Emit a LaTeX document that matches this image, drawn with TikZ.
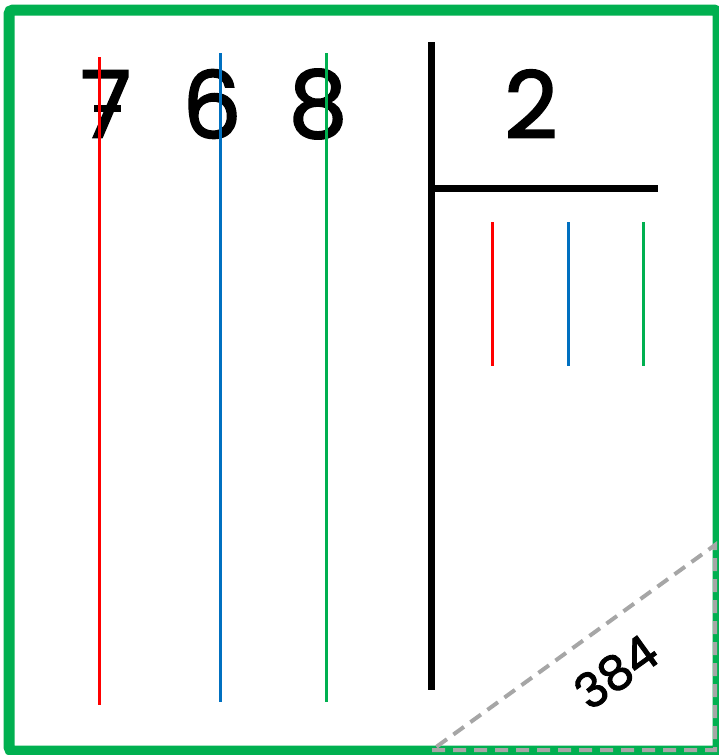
\documentclass[tikz,border=0pt]{standalone}
\usepackage{fontspec}
\setmainfont{Poppins}
\newfontfamily\digfont{Poppins}[FakeBold=2]
\definecolor{myred}{HTML}{FF0000}
\definecolor{myblue}{HTML}{0070C0}
\definecolor{mygreen}{HTML}{00B050}
\definecolor{mygray}{HTML}{A6A6A6}
\begin{document}
\begin{tikzpicture}[x=1pt,y=-1pt,
  digit/.style={font=\digfont\fontsize{93}{93}\selectfont, inner sep=0pt, anchor=center},
  colline/.style={line width=3pt},
  barline/.style={line width=7pt, black},
  hint/.style={draw=mygray, line width=4pt, dash pattern=on 13pt off 8pt}]
\useasboundingbox (0,0) rectangle (719,755);
\clip (0,0) rectangle (719,755);
\draw[mygreen, line width=11pt, rounded corners=4pt] (9,10) rectangle (718,751);
% dividend digits
\node[digit] (d7) at (106,104) {7};
\node[digit] (d6) at (212,104) {6};
\node[digit] (d8) at (318,104) {8};
\draw[line width=7pt] (94,108) -- (121,108);
\draw[colline, myred] (99,57) -- (99,705);
\draw[colline, myblue] (220,53) -- (220,702);
\draw[colline, mygreen] (326,53) -- (326,702);
% division bracket
\draw[barline] (431,42) -- (431,690);
\draw[barline] (431,188) -- (658,188);
\node[digit] (d2) at (531,104) {2};
% quotient lines
\draw[colline, myred] (492,222) -- (492,366);
\draw[colline, myblue] (568,222) -- (568,366);
\draw[colline, mygreen] (643,222) -- (643,366);
% answer triangle
\draw[hint] (432,750) -- (715,750) -- (715,545) -- cycle;
\node[font=\digfont\fontsize{48}{48}\selectfont, rotate=35.7, inner sep=0pt] (ans) at (616,672) {384};
\end{tikzpicture}
\end{document}
